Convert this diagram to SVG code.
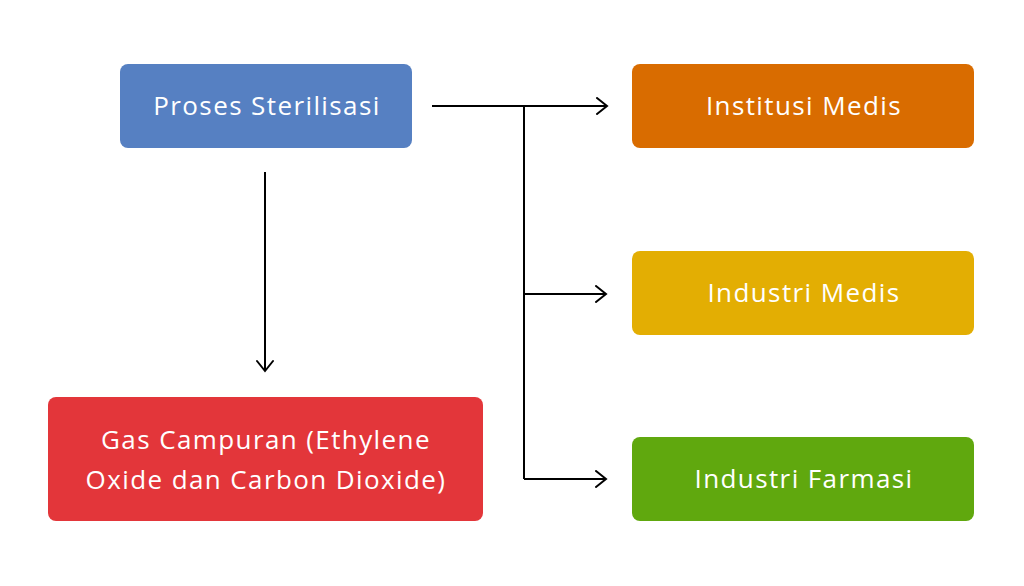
<svg xmlns="http://www.w3.org/2000/svg" width="1024" height="586" viewBox="0 0 1024 586">
<style>
.lbl{font-family:"Open Sans","Noto Sans","Liberation Sans",sans-serif;font-size:26px;font-weight:500;letter-spacing:1.4px;fill:#ffffff;text-anchor:middle;dominant-baseline:central}
.ln{fill:none;stroke:#000000;stroke-width:2}
</style>
<defs>
<marker id="ah" markerWidth="14" markerHeight="18" refX="12" refY="9" orient="auto" markerUnits="userSpaceOnUse">
<path d="M2,1 L12,9 L2,17" fill="none" stroke="#000" stroke-width="2" stroke-linecap="round"/>
</marker>
</defs>
<rect width="1024" height="586" fill="#ffffff"/>
<g id="connectors">
<path class="ln" d="M432,106 H607" marker-end="url(#ah)"/>
<path class="ln" d="M524,106 V479"/>
<path class="ln" d="M524,294 H606" marker-end="url(#ah)"/>
<path class="ln" d="M524,479 H606" marker-end="url(#ah)"/>
<path class="ln" d="M265,172 V371" marker-end="url(#ah)"/>
</g>
<g id="n-proses">
<rect x="120" y="64" width="292" height="84" rx="8" fill="#5680C2"/>
<text class="lbl" x="267" y="105">Proses Sterilisasi</text>
</g>
<g id="n-gas">
<rect x="48" y="397" width="435" height="124" rx="8" fill="#E3363A"/>
<text class="lbl" x="266" y="439">Gas Campuran (Ethylene</text>
<text class="lbl" x="266" y="479">Oxide dan Carbon Dioxide)</text>
</g>
<g id="n-institusi">
<rect x="632" y="64" width="342" height="84" rx="8" fill="#D96C00"/>
<text class="lbl" x="804" y="105">Institusi Medis</text>
</g>
<g id="n-industri-medis">
<rect x="632" y="251" width="342" height="84" rx="8" fill="#E3AE03"/>
<text class="lbl" x="804" y="292">Industri Medis</text>
</g>
<g id="n-farmasi">
<rect x="632" y="437" width="342" height="84" rx="8" fill="#60A80E"/>
<text class="lbl" x="804" y="478">Industri Farmasi</text>
</g>
</svg>
